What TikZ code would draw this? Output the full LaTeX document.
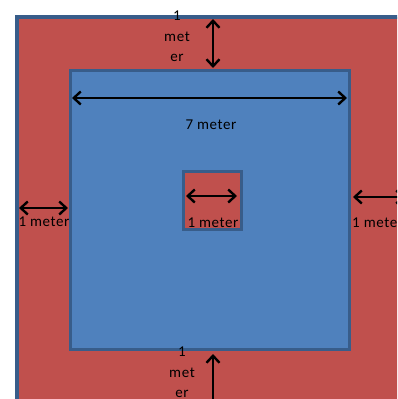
\documentclass[tikz,border=0pt]{standalone}
\usepackage{fontspec}
\setmainfont{Carlito}[LetterSpace=4]
\usetikzlibrary{arrows.meta}
\definecolor{fieldred}{HTML}{C0504D}
\definecolor{fieldblue}{HTML}{4F81BD}
\definecolor{fieldedge}{HTML}{385D8A}
\begin{document}
\begin{tikzpicture}[x=1pt,y=-1pt,
  dim/.style={{Straight Barb[length=7pt,width=13pt]}-{Straight Barb[length=7pt,width=13pt]}, line width=2.4pt, black},
  lbl/.style={font=\fontsize{15}{20.5}\selectfont, inner sep=0pt, align=center}]
\useasboundingbox (0,0) rectangle (397,399);
\clip (0,0) rectangle (397,399);
% the three squares
\draw[line width=4pt, draw=fieldedge, fill=fieldred] (17,17) rectangle (430,430);
\draw[line width=3pt, draw=fieldedge, fill=fieldblue] (70,70) rectangle (349,349);
\draw[line width=3pt, draw=fieldedge, fill=fieldred] (183,171) rectangle (241,229);
% end points of the arrows
\coordinate (TopA) at (213,19);
\coordinate (TopB) at (213,68);
\coordinate (WideA) at (72,98);
\coordinate (WideB) at (347,98);
\coordinate (LeftA) at (19,208);
\coordinate (LeftB) at (68,208);
\coordinate (MidA) at (186,196);
\coordinate (MidB) at (237,196);
\coordinate (RightA) at (353,197);
\coordinate (RightB) at (405,197);
\coordinate (BotA) at (213,354);
\coordinate (BotB) at (213,410);
\draw[dim] (TopA) -- (TopB);
\draw[dim] (WideA) -- (WideB);
\draw[dim] (LeftA) -- (LeftB);
\draw[dim] (MidA) -- (MidB);
\draw[dim] (RightA) -- (RightB);
\draw[dim] (BotA) -- (BotB);
% labels
\node[lbl, anchor=north] (TopLbl) at (177,11) {1\\met\\er};
\node[lbl] (WideLbl) at (211,125) {7 meter};
\node[lbl] (LeftLbl) at (44,222) {1 meter};
\node[lbl] (MidLbl) at (213,223) {1 meter};
\node[lbl, anchor=west] (RightLbl) at (352,223) {1 meter};
\node[lbl, anchor=north] (BotLbl) at (182,347) {1\\met\\er};
\end{tikzpicture}
\end{document}
